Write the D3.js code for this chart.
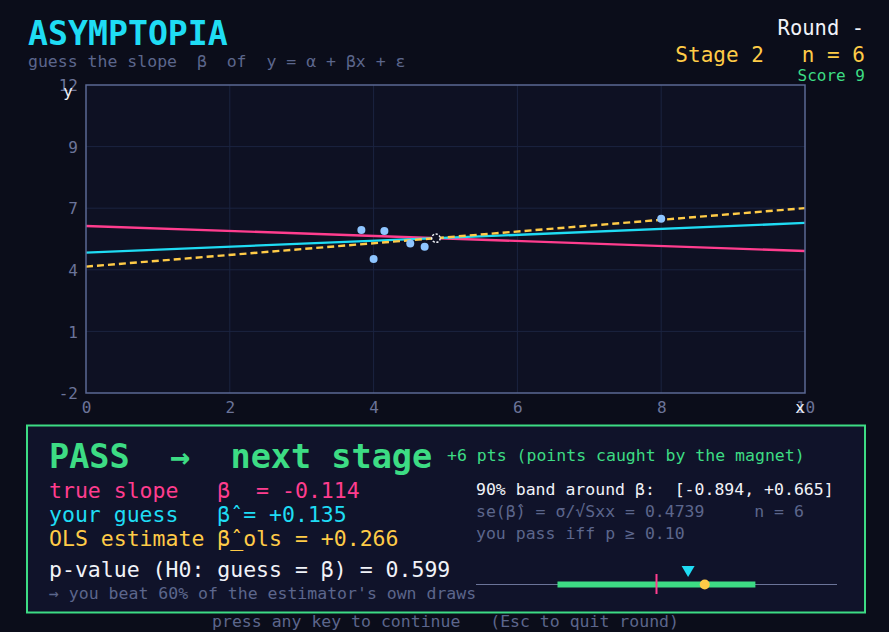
<!DOCTYPE html>
<html>
<head>
<meta charset="utf-8">
<script src="https://cdn.jsdelivr.net/npm/d3@7"></script>
<style>
  html, body { margin: 0; padding: 0; background: #0b0d1a; }
  svg { display: block; }
  text { font-family: "DejaVu Sans Mono", monospace; }
</style>
</head>
<body>
<script>
// ---- data ----
const pointsX = [3.83, 4.15, 4.00, 4.51, 4.71, 8.00];
const pointsY = [5.41, 5.36, 4.09, 4.80, 4.65, 5.92];
const xTicks = [0, 2, 4, 6, 8, 10];
const yTickValues = [-2, 0.8, 3.6, 6.4, 9.2, 12];
const yTickLabels = ["-2", "1", "4", "7", "9", "12"];
const lineNames = ["true", "guess", "ols"];
const lineSlopes = [-0.114, 0.135, 0.266];
const bandInterval = [-0.894, 0.665];
const bandAxis = [-1.536, 1.308];
const seBeta = 0.4739;
const pValue = 0.599;
const nPoints = 6;

const W = 889, H = 632;
const C = {
  bg: "#0b0d1a", plot: "#0e1123", grid: "#1b2440", border: "#5b6894",
  tick: "#6b7499", cyan: "#1fdcf4", pink: "#ff3d8e", yellow: "#ffcb47",
  green: "#3ddc84", point: "#8ec5ff", panel: "#10132a", white: "#f0f2f8", gray: "#5c668c"
};

const svg = d3.select("body").append("svg").attr("width", W).attr("height", H);
svg.append("rect").attr("width", W).attr("height", H).attr("fill", C.bg);

// ---- header ----
svg.append("text").attr("x", 28).attr("y", 45).attr("fill", C.cyan)
  .attr("font-size", 33.2).attr("font-weight", "bold").text("ASYMPTOPIA");
svg.append("text").attr("x", 28).attr("y", 67).attr("fill", C.gray)
  .attr("font-size", 16.5).style("white-space", "pre")
  .text("guess the slope  β  of  y = α + βx + ε");
svg.append("text").attr("x", 864).attr("y", 35).attr("fill", C.white)
  .attr("font-size", 20.5).attr("text-anchor", "end").text("Round -");
svg.append("text").attr("x", 865).attr("y", 62).attr("fill", C.yellow)
  .attr("font-size", 21).attr("text-anchor", "end").style("white-space", "pre")
  .text("Stage 2   n = " + nPoints);
svg.append("text").attr("x", 865).attr("y", 81).attr("fill", C.green)
  .attr("font-size", 16).attr("text-anchor", "end").text("Score 9");

// ---- plot ----
const x = d3.scaleLinear().domain([0, 10]).range([86, 805]);
const y = d3.scaleLinear().domain([-2, 12]).range([393, 85]);

svg.append("rect").attr("x", x(0)).attr("y", y(12)).attr("width", x(10) - x(0))
  .attr("height", y(-2) - y(12)).attr("fill", C.plot);

const g = svg.append("g");
g.selectAll(".vg").data(xTicks.slice(1, -1)).join("line")
  .attr("x1", d => x(d)).attr("x2", d => x(d)).attr("y1", y(12)).attr("y2", y(-2))
  .attr("stroke", C.grid).attr("stroke-width", 1);
g.selectAll(".hg").data(yTickValues.slice(1, -1)).join("line")
  .attr("y1", d => y(d)).attr("y2", d => y(d)).attr("x1", x(0)).attr("x2", x(10))
  .attr("stroke", C.grid).attr("stroke-width", 1);

// y axis labels
const yAxis = d3.axisLeft(y).tickValues(yTickValues).tickSize(0)
  .tickFormat((d, i) => yTickLabels[i]).tickPadding(8);
const ya = svg.append("g").attr("transform", `translate(${x(0)},0)`).call(yAxis);
ya.select(".domain").remove();
ya.selectAll("text").attr("fill", C.tick).attr("font-size", 16)
  .attr("font-family", "DejaVu Sans Mono").attr("dy", "0.35em");

const xAxis = d3.axisBottom(x).tickValues(xTicks).tickSize(0).tickPadding(9);
const xa = svg.append("g").attr("transform", `translate(0,${y(-2)})`).call(xAxis);
xa.select(".domain").remove();
xa.selectAll("text").attr("fill", C.tick).attr("font-size", 16)
  .attr("font-family", "DejaVu Sans Mono");

// regression lines through the centroid
const mx = d3.mean(pointsX), my = d3.mean(pointsY);
const lineColors = { true: C.pink, guess: C.cyan, ols: C.yellow };
const lineGen = d3.line().x(d => x(d[0])).y(d => y(d[1]));
lineNames.forEach((name, i) => {
  const b = lineSlopes[i];
  const pts = [0, 10].map(xx => [xx, my + b * (xx - mx)]);
  svg.append("path").attr("d", lineGen(pts)).attr("fill", "none")
    .attr("stroke", lineColors[name]).attr("stroke-width", 2.4)
    .attr("stroke-dasharray", name === "ols" ? "7,4" : null);
});

// points
svg.selectAll(".pt").data(pointsX.map((v, i) => [v, pointsY[i]])).join("circle")
  .attr("cx", d => x(d[0])).attr("cy", d => y(d[1])).attr("r", 4)
  .attr("fill", C.point);

// centroid marker
svg.append("circle").attr("cx", x(mx)).attr("cy", y(my)).attr("r", 4.2)
  .attr("fill", C.plot).attr("stroke", C.white).attr("stroke-width", 1.5)
  .attr("stroke-dasharray", "2.2,1.6");

// plot border
svg.append("rect").attr("x", x(0)).attr("y", y(12)).attr("width", x(10) - x(0))
  .attr("height", y(-2) - y(12)).attr("fill", "none").attr("stroke", C.border).attr("stroke-width", 1.5);

// axis name labels (overlap the end tick labels, as in the reference)
svg.append("text").attr("x", 68).attr("y", 97).attr("fill", C.white).attr("font-size", 16)
  .attr("text-anchor", "middle").text("y");
svg.append("text").attr("x", 800).attr("y", 413).attr("fill", C.white).attr("font-size", 16)
  .attr("text-anchor", "middle").text("x");

// ---- result panel ----
svg.append("rect").attr("x", 27).attr("y", 425.5).attr("width", 838).attr("height", 187)
  .attr("fill", C.panel).attr("stroke", C.green).attr("stroke-width", 2);

const T = (xx, yy, txt, col, size, extra) => {
  const t = svg.append("text").attr("x", xx).attr("y", yy).attr("fill", col)
    .attr("font-size", size).style("white-space", "pre").text(txt);
  if (extra) extra(t);
  return t;
};
// text with a hat drawn over the previous character cell
const TH = (xx, yy, before, after, col, size) => {
  const cw = size * 0.602;
  const t = svg.append("text").attr("x", xx).attr("y", yy).attr("fill", col)
    .attr("font-size", size).style("white-space", "pre");
  t.append("tspan").text(before);
  t.append("tspan").attr("dx", -cw).text("ˆ");
  t.append("tspan").text(after);
  return t;
};
const f3 = v => (v >= 0 ? "+" : "") + v.toFixed(3);

T(49, 468, "PASS  →  next stage", C.green, 33.5, t => t.attr("font-weight", "bold"));
T(447, 461, "+6 pts (points caught by the magnet)", C.green, 16.5);
T(49, 498, "true slope   β  = " + f3(lineSlopes[0]), C.pink, 21.5);
T(49, 522, "your guess   βˆ= " + f3(lineSlopes[1]), C.cyan, 21.5);
TH(49, 546, "OLS estimate β_", "ols = " + f3(lineSlopes[2]), C.yellow, 21.5);
T(49, 577, "p-value (H0: guess = β) = " + pValue.toFixed(3), C.white, 21.5);
T(49, 599, "→ you beat 60% of the estimator's own draws", C.gray, 16.5);

T(476, 495, "90% band around β:  [" + f3(bandInterval[0]) + ", " + f3(bandInterval[1]) + "]", C.white, 16.5);
TH(476, 517, "se(β)", " = σ/√Sxx = " + seBeta.toFixed(4) + "     n = " + nPoints, C.gray, 16.5);
T(476, 539, "you pass iff p ≥ 0.10", C.gray, 16.5);

// band graphic
const bx = d3.scaleLinear().domain(bandAxis).range([476, 837]);
const by = 584.5;
svg.append("line").attr("x1", bx(bandAxis[0])).attr("x2", bx(bandAxis[1]))
  .attr("y1", by).attr("y2", by).attr("stroke", C.tick).attr("stroke-width", 1.2);
svg.append("rect").attr("x", bx(bandInterval[0])).attr("y", by - 3)
  .attr("width", bx(bandInterval[1]) - bx(bandInterval[0])).attr("height", 6).attr("fill", C.green);
svg.append("line").attr("x1", bx(lineSlopes[0])).attr("x2", bx(lineSlopes[0]))
  .attr("y1", 574).attr("y2", 594).attr("stroke", C.pink).attr("stroke-width", 2);
const gx = bx(lineSlopes[1]);
svg.append("path").attr("d", `M${gx - 6.5},566 L${gx + 6.5},566 L${gx},577 Z`).attr("fill", C.cyan);
svg.append("circle").attr("cx", bx(lineSlopes[2])).attr("cy", by).attr("r", 5).attr("fill", C.yellow);

// footer
T(445.5, 627, "press any key to continue   (Esc to quit round)", C.gray, 16.5, t => t.attr("text-anchor", "middle"));
</script>
</body>
</html>
